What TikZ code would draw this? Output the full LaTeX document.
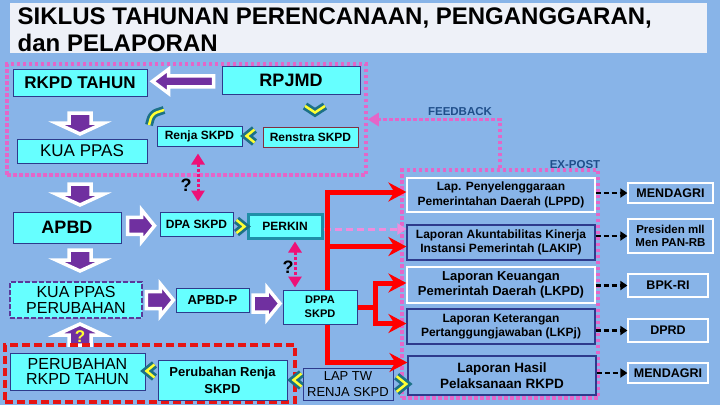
\documentclass[tikz,border=0pt]{standalone}
\usepackage{fontspec}
\setmainfont{Liberation Sans}
\usetikzlibrary{arrows.meta,calc}
\definecolor{bgblue}{HTML}{88B4E8}
\definecolor{boxcyan}{HTML}{66FFFF}
\definecolor{navy}{HTML}{2E3A8C}
\definecolor{arrpurple}{HTML}{7030A0}
\definecolor{dotpink}{HTML}{E466C8}
\definecolor{lightpink}{HTML}{F08CDC}
\definecolor{deeppink}{HTML}{EE1177}
\definecolor{chevteal}{HTML}{1C7186}
\definecolor{chevyellow}{HTML}{FFFF33}
\definecolor{labelblue}{HTML}{1F4E8A}
\definecolor{titlegray}{HTML}{EEF1F8}
\definecolor{perkinteal}{HTML}{1F8FA8}
\definecolor{renstrared}{HTML}{803040}
\definecolor{kuapurple}{HTML}{5A3A9A}
\definecolor{revred}{HTML}{E61414}

\begin{document}
\begin{tikzpicture}[x=1pt,y=-1pt,
    every node/.style={font=\bfseries, inner sep=1pt, align=center},
    cbox/.style={draw=navy, fill=boxcyan, line width=1pt},
    rep/.style={draw=navy, fill=bgblue, line width=1.2pt, minimum width=188,
                font=\bfseries\fontsize{12}{14.5}\selectfont},
    dest/.style={draw=white, fill=bgblue, line width=1.2pt,
                 font=\bfseries\fontsize{12.5}{14}\selectfont},
    dotbox/.style={draw=dotpink, line width=3.5pt, dash pattern=on 3.5pt off 2.5pt},
    redarr/.style={draw=red, line width=5pt, -{Stealth[length=18pt,width=19pt,inset=6pt]}},
    blkarr/.style={line width=2.5pt, dash pattern=on 5pt off 3pt,
                   -{Triangle[length=7pt,width=9pt]}},
    qarr/.style={deeppink, line width=3pt, dash pattern=on 3pt off 2pt,
                 {Triangle[length=11pt,width=13pt]}-{Triangle[length=11pt,width=13pt]}},
    fbline/.style={dotpink, line width=3.5pt, dash pattern=on 3.5pt off 2.5pt,
                   -{Triangle[length=11pt,width=13pt]}},
    pdash/.style={lightpink, line width=3pt, dash pattern=on 7pt off 4pt,
                  -{Triangle[length=9pt,width=11pt]}},
    blockfill/.style={fill=arrpurple, draw=white, line width=3.5pt},
    chevline/.style={chevteal, line width=8pt},
    chevcore/.style={chevyellow, line width=2.5pt},
    darr/.pic={\path[blockfill] (-11,-10) -- (11,-10) -- (11,0) -- (24,0) -- (0,11)
               -- (-24,0) -- (-11,0) -- cycle;},
    rarr/.pic={\path[blockfill] (-13,-8.5) -- (1,-8.5) -- (1,-16) -- (14,0) -- (1,16)
               -- (1,8.5) -- (-13,8.5) -- cycle;},
    larr/.pic={\path[blockfill] (29,-5.5) -- (-16,-5.5) -- (-16,-12) -- (-32,0) -- (-16,12)
               -- (-16,5.5) -- (29,5.5) -- cycle;},
    chev/.pic={\draw[chevline] (4.5,-6.5) -- (-3.5,0) -- (4.5,6.5);
               \draw[chevcore] (4.5,-6.5) -- (-3.5,0) -- (4.5,6.5);},
    chevdown/.pic={\draw[chevline] (-10,-4) -- (0,2.5) -- (10,-4);
                   \draw[chevcore] (-10,-4) -- (0,2.5) -- (10,-4);},
    chevbend/.pic={\draw[chevline, rounded corners=5pt] (-7,8) -- (-4,-3) -- (8,-7);
                   \draw[chevcore, rounded corners=5pt] (-7,8) -- (-4,-3) -- (8,-7);}
  ]
  \fill[bgblue] (0,0) rectangle (720,405);
  \useasboundingbox (0,0) rectangle (720,405);

  % title
  \node[fill=titlegray, minimum width=697, minimum height=50, inner sep=0] (titlebar) at (358.5,28) {};
  \node[anchor=north west, align=left, inner sep=0,
        font=\bfseries\fontsize{24}{27}\selectfont] (title) at (17.5,8)
        {SIKLUS TAHUNAN PERENCANAAN, PENGANGGARAN,\\dan PELAPORAN};

  % frames
  \node[dotbox, minimum width=359, minimum height=111] (plan) at (186.5,119.5) {};
  \node[dotbox, minimum width=196, minimum height=228] (expost) at (500,284) {};

  % block arrows down the left column
  \pic at (80,123) {darr};
  \pic at (80,194) {darr};
  \pic at (80,260) {darr};
  \pic[rotate=180] at (80,335) {darr};

  \node[draw=revred, line width=3.5pt, dash pattern=on 8pt off 4pt,
        minimum width=290, minimum height=57] (revbox) at (150,373.5) {};

  % planning
  \node[cbox, minimum width=134, minimum height=27, font=\bfseries\fontsize{17}{19}\selectfont] (rkpd) at (80,82.5) {RKPD TAHUN};
  \node[cbox, minimum width=138, minimum height=28, font=\bfseries\fontsize{18}{20}\selectfont] (rpjmd) at (291,80) {RPJMD};
  \node[cbox, minimum width=85, minimum height=20, font=\bfseries\fontsize{12}{14}\selectfont] (renja) at (199.5,136) {Renja SKPD};
  \node[cbox, draw=renstrared, minimum width=95, minimum height=20, font=\bfseries\fontsize{12}{14}\selectfont] (renstra) at (310.5,137) {Renstra SKPD};
  \node[cbox, minimum width=130, minimum height=24, font=\fontsize{17}{19}\selectfont] (kua) at (82,151) {KUA PPAS};

  % budgeting
  \node[cbox, minimum width=108, minimum height=31, font=\bfseries\fontsize{18}{20}\selectfont] (apbd) at (67,227.5) {APBD};
  \node[cbox, minimum width=73, minimum height=24, font=\bfseries\fontsize{12}{14}\selectfont] (dpa) at (196.5,224) {DPA SKPD};
  \node[cbox, draw=perkinteal, line width=3pt, minimum width=74, minimum height=24, font=\bfseries\fontsize{12}{14}\selectfont] (perkin) at (285,226) {PERKIN};
  \node[cbox, draw=kuapurple, line width=2.5pt, dash pattern=on 5pt off 2pt, minimum width=132, minimum height=36, font=\fontsize{16}{16}\selectfont] (kuap) at (76,300) {KUA PPAS\\PERUBAHAN};
  \node[cbox, minimum width=73, minimum height=24, font=\bfseries\fontsize{13}{15}\selectfont] (apbdp) at (212.5,300) {APBD-P};
  \node[cbox, minimum width=74, minimum height=34, font=\bfseries\fontsize{11}{14}\selectfont] (dppa) at (320,307) {DPPA\\SKPD};
  \node[cbox, minimum width=135, minimum height=37, font=\fontsize{16}{14.5}\selectfont] (prkpd) at (77.5,371.5) {PERUBAHAN\\RKPD TAHUN};
  \node[cbox, minimum width=129, minimum height=40, font=\bfseries\fontsize{13}{17}\selectfont] (prenja) at (222.5,380) {Perubahan Renja\\SKPD};
  \node[cbox, fill=bgblue, minimum width=90, minimum height=32, font=\fontsize{13}{16.5}\selectfont] (laptw) at (348,384) {LAP TW\\RENJA SKPD};

  % reports
  \node[rep, draw=white, minimum height=34] (lppd) at (501,195) {Lap. Penyelenggaraan\\Pemerintahan Daerah (LPPD)};
  \node[rep, minimum height=35] (lakip) at (501,242.5) {Laporan Akuntabilitas Kinerja\\Instansi Pemerintah (LAKIP)};
  \node[rep, draw=white, minimum height=36, font=\bfseries\fontsize{13}{15}\selectfont] (lkpd) at (501,285) {Laporan Keuangan\\Pemerintah Daerah (LKPD)};
  \node[rep, minimum height=35] (lkpj) at (501,326.5) {Laporan Keterangan\\Pertanggungjawaban (LKPj)};
  \node[rep, minimum height=39, font=\bfseries\fontsize{13.5}{16}\selectfont] (lhasil) at (502,375.5) {Laporan Hasil\\Pelaksanaan RKPD};

  % receivers
  \node[dest, minimum width=85, minimum height=20] (mdg1) at (670.5,193) {MENDAGRI};
  \node[dest, minimum width=85, minimum height=34, font=\bfseries\fontsize{11.5}{13}\selectfont] (pres) at (670.5,236) {Presiden mll\\Men PAN-RB};
  \node[dest, minimum width=80, minimum height=23] (bpk) at (668,285.5) {BPK-RI};
  \node[dest, minimum width=80, minimum height=23] (dprd) at (668,330.5) {DPRD};
  \node[dest, minimum width=80, minimum height=20] (mdg2) at (668,373) {MENDAGRI};

  % block arrows between nodes
  \pic at ($(rkpd.east)!0.5!(rpjmd.west)$) {larr};
  \pic at ($(apbd.east)!0.5!(dpa.west)$) {rarr};
  \pic at ($(kuap.east)!0.5!(apbdp.west)$) {rarr};
  \pic at ($(apbdp.east)!0.5!(dppa.west)$) {rarr};

  % chevrons
  \pic at (156,117) {chevbend};
  \pic at (315,110) {chevdown};
  \pic at (250,136) {chev};
  \pic[rotate=180] at (241,226.5) {chev};
  \pic at (150,371) {chev};
  \pic at (297,380) {chev};
  \pic[rotate=180, scale=1.2] at (402,384) {chev};

  % question links
  \draw[qarr, shorten <=7pt, shorten >=10pt] ([xshift=-1.5pt]renja.south) -- ([xshift=-1.5pt]renja.south |- dpa.north);
  \draw[qarr, shorten <=2pt, shorten >=2pt] ([xshift=10pt]perkin.south) -- ([xshift=10pt]perkin.south |- dppa.north);
  \node[font=\bfseries\fontsize{18}{20}\selectfont] (q1) at (186,185) {?};
  \node[font=\bfseries\fontsize{18}{20}\selectfont] (q2) at (288,267) {?};
  \node[text=chevyellow, font=\bfseries\fontsize{17}{19}\selectfont] (q3) at (80,337) {?};

  % feedback and ex-post
  \draw[fbline] (expost.north) |- (plan.east);
  \node[text=labelblue, font=\bfseries\fontsize{11.5}{13}\selectfont] (fbl) at (460,112) {FEEDBACK};
  \node[text=labelblue, font=\bfseries\fontsize{11.5}{13}\selectfont] (epl) at (575,165) {EX-POST};
  \draw[pdash] ([yshift=-3pt]perkin.east) -- ([yshift=-3pt]perkin.east -| lakip.west);

  % red report links
  \draw[redarr] ([xshift=7pt]dppa.north) |- ([yshift=3pt]lppd.west);
  \draw[redarr] ([xshift=7pt]dppa.north) |- ([yshift=-4pt]lakip.west);
  \draw[redarr] (dppa.east) -- ++(18,0) |- ([yshift=2pt]lkpd.west);
  \draw[redarr] (dppa.east) -- ++(18,0) |- ([yshift=3pt]lkpj.west);
  \draw[redarr] ([xshift=7pt]dppa.south) |- ([yshift=13pt]lhasil.west);

  % to receivers
  \draw[blkarr] (mdg1.west -| lppd.east) -- (mdg1.west);
  \draw[blkarr] (pres.west -| lakip.east) -- (pres.west);
  \draw[blkarr] (bpk.west -| lkpd.east) -- (bpk.west);
  \draw[blkarr] (dprd.west -| lkpj.east) -- (dprd.west);
  \draw[blkarr] (mdg2.west -| lhasil.east) -- (mdg2.west);
\end{tikzpicture}
\end{document}
